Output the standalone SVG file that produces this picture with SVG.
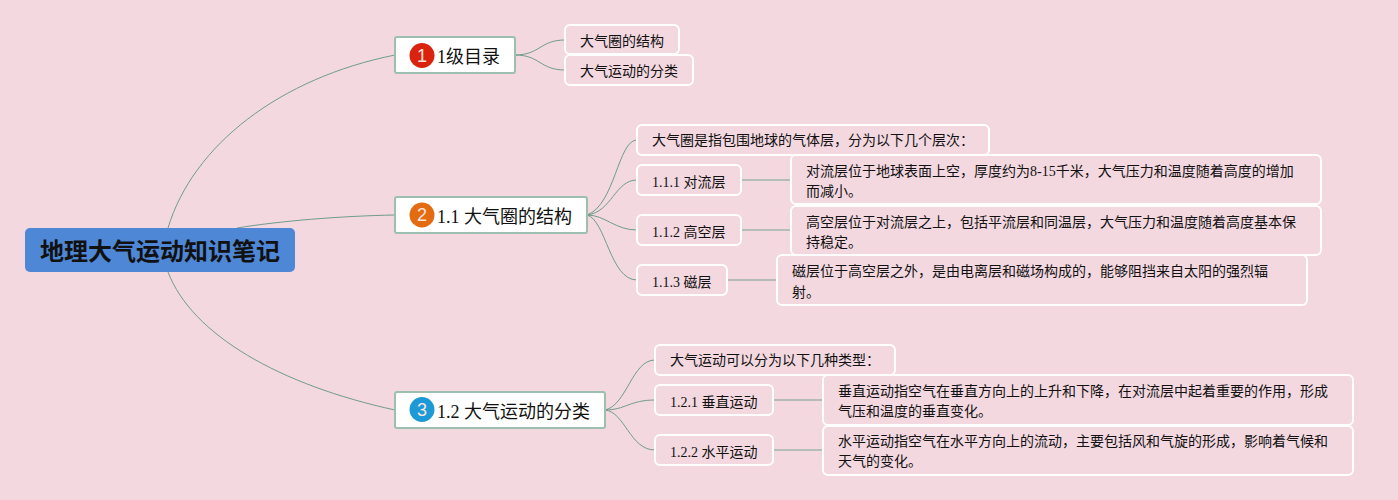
<svg xmlns="http://www.w3.org/2000/svg" width="1398" height="500" viewBox="0 0 1398 500">
<style>
text{font-family:"Liberation Serif","Noto Sans CJK SC",serif;fill:#111}
.l{fill:none;stroke:#6f9c8c;stroke-width:1}
.s{fill:none;stroke:#a3b3ab;stroke-width:1.5}
.b{fill:#fff;stroke:#9cbfb0;stroke-width:2}
.c{fill:#f3d8e0;stroke:#fff;stroke-width:2}
.t{font-size:18px}
.m{font-size:14px}
.n{font-family:"Liberation Sans","Noto Sans",sans-serif;font-size:18px;fill:#fbe6de}
</style>
<rect width="1398" height="500" fill="#f3d8e0"/>
<g id="connectors">
<path class="l" d="M168 228C193 145 280 78 395 55"/>
<path class="l" d="M237 228C280 221 340 216 395 215"/>
<path class="l" d="M168 272C192 335 280 385 395 410"/>
<path class="l" d="M515 55C540 55 540 40 565 40"/>
<path class="l" d="M515 55C540 55 540 70 565 70"/>
<path class="l" d="M587 215C615 205 618 140 637 140"/>
<path class="l" d="M587 215C612 212 615 180 637 180"/>
<path class="l" d="M587 215C605 215 615 230 637 230"/>
<path class="l" d="M587 215C606 220 610 280 637 280"/>
<path class="l" d="M605 410C627 405 632 360 655 360"/>
<path class="l" d="M605 410C625 410 630 400 655 400"/>
<path class="l" d="M605 410C625 412 630 450 655 450"/>
<path class="s" d="M741 180H791M741 230H791M727 280H777M773 400H823M773 450H823"/>
</g>
<g id="root"><rect x="25" y="228" width="270" height="44" rx="5" fill="#4d87d6"/><text x="160" y="260" text-anchor="middle" font-size="24" font-weight="700" style="font-family:'Liberation Sans','Noto Sans CJK SC',sans-serif">地理大气运动知识笔记</text></g>
<g id="n1"><rect class="b" x="395" y="37" width="120" height="36" rx="2"/><circle cx="422" cy="55.5" r="12.5" fill="#d9230f"/><text class="n" x="422" y="61.5" text-anchor="middle">1</text><text class="t" x="437" y="63">1级目录</text></g>
<g id="n1a"><rect class="c" x="565" y="25" width="114" height="29" rx="5"/><text class="m" x="580" y="46">大气圈的结构</text></g>
<g id="n1b"><rect class="c" x="565" y="55" width="128" height="30" rx="5"/><text class="m" x="580" y="76">大气运动的分类</text></g>
<g id="n2"><rect class="b" x="395" y="197" width="192" height="36" rx="2"/><circle cx="422" cy="215" r="12.5" fill="#e36c13"/><text class="n" x="422" y="221" text-anchor="middle">2</text><text class="t" x="437" y="223">1.1 大气圈的结构</text></g>
<g id="n2a"><rect class="c" x="637" y="125" width="352" height="30" rx="5"/><text class="m" x="652" y="145">大气圈是指包围地球的气体层，分为以下几个层次：</text></g>
<g id="n2b"><rect class="c" x="637" y="165" width="104" height="30" rx="5"/><text class="m" x="652" y="186.5">1.1.1 对流层</text></g>
<g id="n2c"><rect class="c" x="637" y="215" width="104" height="30" rx="5"/><text class="m" x="652" y="236.5">1.1.2 高空层</text></g>
<g id="n2d"><rect class="c" x="637" y="265" width="90" height="30" rx="5"/><text class="m" x="652" y="286.5">1.1.3 磁层</text></g>
<g id="n2b1"><rect class="c" x="791" y="155" width="530" height="49" rx="5"/><text class="m" x="806" y="176">对流层位于地球表面上空，厚度约为8-15千米，大气压力和温度随着高度的增加</text><text class="m" x="806" y="196">而减小。</text></g>
<g id="n2c1"><rect class="c" x="791" y="206" width="530" height="49" rx="5"/><text class="m" x="806" y="227">高空层位于对流层之上，包括平流层和同温层，大气压力和温度随着高度基本保</text><text class="m" x="806" y="247">持稳定。</text></g>
<g id="n2d1"><rect class="c" x="777" y="255" width="530" height="50" rx="5"/><text class="m" x="792" y="276">磁层位于高空层之外，是由电离层和磁场构成的，能够阻挡来自太阳的强烈辐</text><text class="m" x="792" y="297">射。</text></g>
<g id="n3"><rect class="b" x="395" y="392" width="210" height="36" rx="2"/><circle cx="422" cy="409.5" r="12.5" fill="#1d9ad6"/><text class="n" x="422" y="415.5" text-anchor="middle">3</text><text class="t" x="437" y="418">1.2 大气运动的分类</text></g>
<g id="n3a"><rect class="c" x="655" y="345" width="240" height="30" rx="5"/><text class="m" x="670" y="365">大气运动可以分为以下几种类型：</text></g>
<g id="n3b"><rect class="c" x="655" y="385" width="118" height="30" rx="5"/><text class="m" x="670" y="406.5">1.2.1 垂直运动</text></g>
<g id="n3c"><rect class="c" x="655" y="435" width="118" height="30" rx="5"/><text class="m" x="670" y="456.5">1.2.2 水平运动</text></g>
<g id="n3b1"><rect class="c" x="823" y="375" width="530" height="50" rx="5"/><text class="m" x="838" y="396">垂直运动指空气在垂直方向上的上升和下降，在对流层中起着重要的作用，形成</text><text class="m" x="838" y="416">气压和温度的垂直变化。</text></g>
<g id="n3c1"><rect class="c" x="823" y="426" width="530" height="49" rx="5"/><text class="m" x="838" y="446">水平运动指空气在水平方向上的流动，主要包括风和气旋的形成，影响着气候和</text><text class="m" x="838" y="466">天气的变化。</text></g>
</svg>
